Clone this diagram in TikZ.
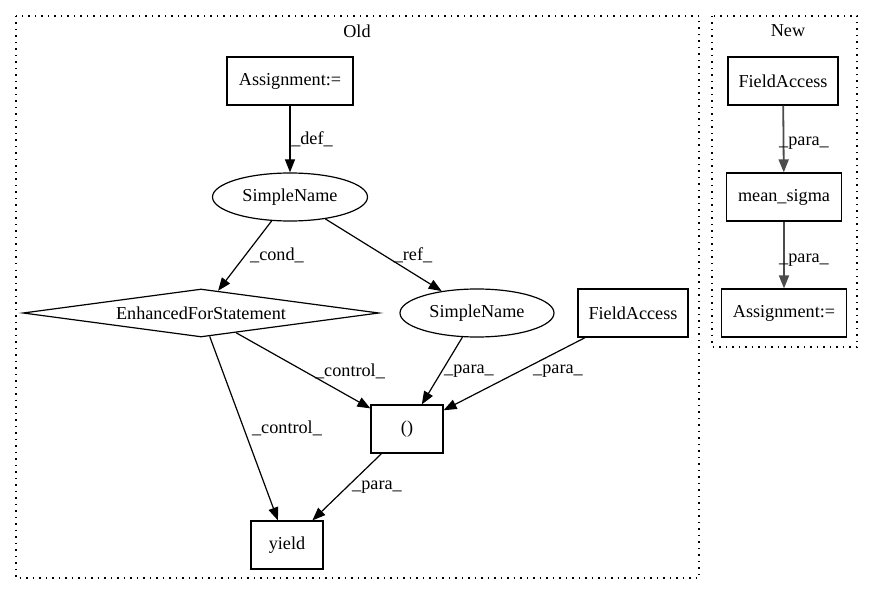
\documentclass[tikz,border=0pt]{standalone}
\usepackage{fontspec}
\setmainfont{Liberation Serif}
\usetikzlibrary{shapes.geometric,arrows.meta}
\begin{document}
\begin{tikzpicture}[x=1pt,y=-1pt,
  every node/.style={font=\fontsize{18.2}{22}\selectfont, inner sep=0pt},
  boxnode/.style={draw, rectangle, line width=1.2pt, minimum height=48pt},
  ellnode/.style={draw, ellipse, line width=1.2pt, minimum width=155pt, minimum height=48pt},
  dianode/.style={draw, diamond, line width=1.2pt, aspect=7.4, minimum width=356pt, minimum height=48pt},
  edgeline/.style={draw, line width=1.2pt, -{Triangle[length=13pt,width=10pt]}},
  newedge/.style={draw, black!70, line width=1.8pt, -{Triangle[length=13pt,width=10pt]}},
  cluster/.style={draw, line width=1.3pt, dash pattern=on 1.5pt off 5pt},
  lbl/.style={fill=none}
]
\useasboundingbox (0,0) rectangle (873,596);
% clusters
\draw[cluster] (16,16) rectangle (699,578);
\draw[cluster] (712,16) rectangle (857,347);
\node (oldlbl) at (357,31) {Old};
\node (newlbl) at (788,31) {New};
% old nodes
\node[boxnode, minimum width=126pt] (asg) at (290,81) {Assignment:=};
\node[ellnode] (sn1) at (290,197) {SimpleName};
\node[dianode] (efs) at (201,313) {EnhancedForStatement};
\node[ellnode, minimum width=154pt] (sn2) at (477,313) {SimpleName};
\node[boxnode, minimum width=110pt] (fa1) at (633,313) {FieldAccess};
\node[boxnode, minimum width=72pt] (par) at (407,429) {()};
\node[boxnode, minimum width=72pt] (yld) at (287,545) {yield};
% new nodes
\node[boxnode, minimum width=110pt] (fa2) at (783,81) {FieldAccess};
\node[boxnode, minimum width=115pt] (ms) at (784,197) {mean\_sigma};
\node[boxnode, minimum width=125pt] (asg2) at (784,313) {Assignment:=};
% old edges
\path[edgeline] (asg) -- (sn1);
\path[edgeline] (sn1) -- (efs);
\path[edgeline] (sn1) -- (sn2);
\path[edgeline] (efs) -- (yld);
\path[edgeline] (efs) -- (par);
\path[edgeline] (sn2) -- (par);
\path[edgeline] (fa1) -- (par);
\path[edgeline] (par) -- (yld);
% new edges
\path[newedge] (fa2) -- (ms);
\path[newedge] (ms) -- (asg2);
% labels
\node[lbl] (l1) at (312,139) {\_def\_};
\node[lbl] (l2) at (277,255) {\_cond\_};
\node[lbl] (l3) at (413,255) {\_ref\_};
\node[lbl] (l4) at (350,371) {\_control\_};
\node[lbl] (l5) at (287,428) {\_control\_};
\node[lbl] (l6) at (377,487) {\_para\_};
\node[lbl] (l7) at (469,371) {\_para\_};
\node[lbl] (l8) at (558,371) {\_para\_};
\node[lbl] (l9) at (804,143) {\_para\_};
\node[lbl] (l10) at (804,260) {\_para\_};
\end{tikzpicture}
\end{document}
